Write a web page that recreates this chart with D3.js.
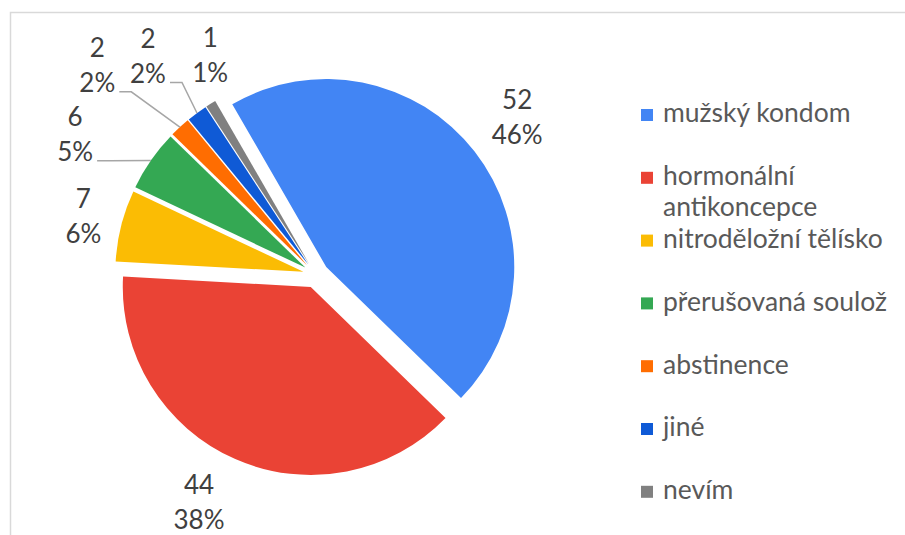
<!DOCTYPE html>
<html><head><meta charset="utf-8">
<script src="https://cdn.jsdelivr.net/npm/d3@7"></script>
<style>body{margin:0;background:#fff}svg{display:block}</style>
</head><body>
<svg id="c" width="905" height="535"></svg>
<script>
const categories = ["mužský kondom","hormonální antikoncepce","nitroděložní tělísko","přerušovaná soulož","abstinence","jiné","nevím"];
const values = [52,44,7,6,2,2,1];
const percentLabels = ["46%","38%","6%","5%","2%","2%","1%"];
const colors = ["#4285F4","#EA4335","#FBBC04","#34A853","#FF6D01","#0F5AD6","#808080"];

const svg = d3.select("#c");
const W = 905, H = 535;
// chart frame
svg.append("path").attr("d", `M10.5,${H} L10.5,12.5 L${W},12.5`)
  .attr("fill","none").attr("stroke","#d9d9d9").attr("stroke-width",1.5);

const cx = 316, cy = 275, R = 188, explode = 13;
const start = -30 * Math.PI/180;
const pie = d3.pie().sort(null).value(d=>d).startAngle(start).endAngle(start + 2*Math.PI);
const arcs = pie(values);
const arc = d3.arc().innerRadius(0).outerRadius(R);
const g = svg.append("g").attr("transform",`translate(${cx},${cy})`);
const pol = (a, r) => [Math.sin(a)*r, -Math.cos(a)*r];

g.selectAll("path.slice").data(arcs).enter().append("path")
  .attr("class","slice")
  .attr("d", arc)
  .attr("fill",(d,i)=>colors[i])
  .attr("transform", d => { const m=(d.startAngle+d.endAngle)/2; const [x,y]=pol(m,explode); return `translate(${x},${y})`; });

// label layout (polar, degrees from top, radius from pie centre)
const labelLayout = [{a:51.8,r:256},{a:207.2,r:256},{a:284.2,r:240},{a:300.3,r:279},{a:313.8,r:303},{a:322.5,r:276},{a:334.3,r:244}];
const leader = [false,false,false,true,true,true,false];
const fs = 26;
const labelColor = "#404040";

arcs.forEach((d,i)=>{
  const L = labelLayout[i];
  const [lx, ly] = pol(L.a*Math.PI/180, L.r);
  const t = g.append("text").attr("text-anchor","middle")
    .attr("font-family","Lato, 'Open Sans', sans-serif").attr("font-size",fs).attr("fill",labelColor);
  t.append("tspan").attr("x",lx).attr("y",ly - 17.5 + 9.3).text(values[i]);
  t.append("tspan").attr("x",lx).attr("y",ly + 17.5 + 9.3).text(percentLabels[i]);
  if (leader[i]) {
    const m = (d.startAngle+d.endAngle)/2;
    const [ex, ey] = pol(m, R + explode);
    const sx = lx + 22, sy = ly + 17.5 + 9;
    const pts = [[sx,sy],[sx+12,sy],[ex,ey]];
    g.append("polyline").attr("points", pts.map(p=>p.join(",")).join(" "))
      .attr("fill","none").attr("stroke","#a6a6a6").attr("stroke-width",1.5);
  }
});

// legend
const legX = 641, legY0 = 115, legStep = 62.8, legFs = 26.5;
const lg = svg.append("g");
categories.forEach((c,i)=>{
  const y = legY0 + i*legStep;
  lg.append("rect").attr("x",legX).attr("y",y-6).attr("width",12).attr("height",12).attr("fill",colors[i]);
  const words = c === "hormonální antikoncepce" ? ["hormonální","antikoncepce"] : [c];
  const t = lg.append("text").attr("font-family","Lato, 'Open Sans', sans-serif").attr("font-size",legFs).attr("fill","#595959");
  words.forEach((w,j)=>{
    t.append("tspan").attr("x",legX+22).attr("y", y + 9.3 - 2 + j*31).text(w);
  });
});
</script>
</body></html>
